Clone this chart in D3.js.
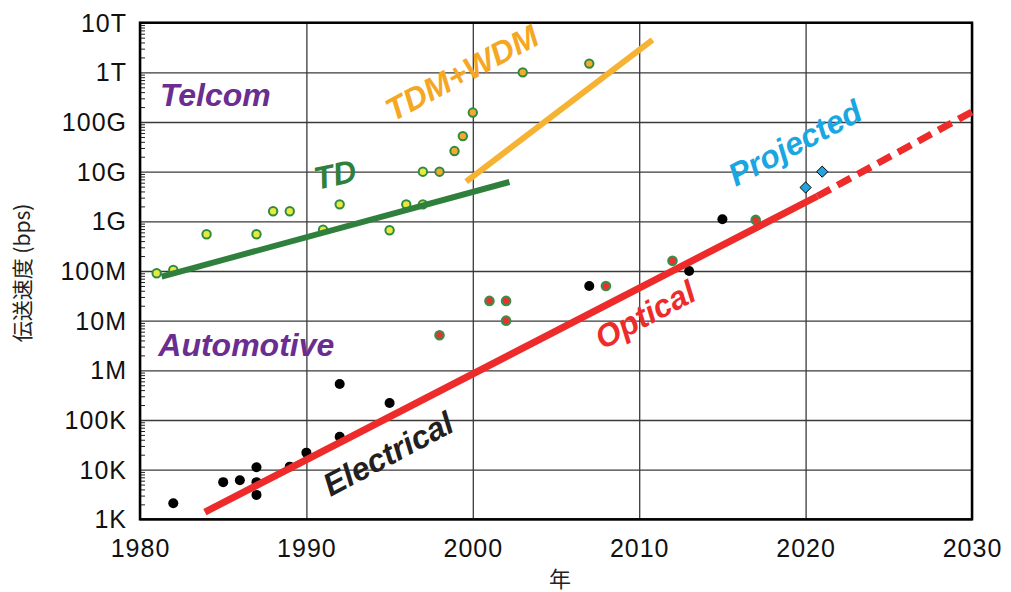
<!DOCTYPE html>
<html>
<head>
<meta charset="utf-8">
<script src="https://cdn.jsdelivr.net/npm/d3@7"></script>
<style>
  html, body { margin: 0; padding: 0; background: #fff; }
  svg { display: block; }
</style>
</head>
<body>
<svg id="chart" width="1011" height="592"></svg>
<script>
// ---------------- DATA ----------------
const xTicks = [1980, 1990, 2000, 2010, 2020, 2030];
const yTicks = [1e3, 1e4, 1e5, 1e6, 1e7, 1e8, 1e9, 1e10, 1e11, 1e12, 1e13];
const yTickLabels = ["1K", "10K", "100K", "1M", "10M", "100M", "1G", "10G", "100G", "1T", "10T"];

// Telcom TD points (yellow)
const telcomTdYears = [1981, 1982, 1984, 1987, 1988, 1989, 1991, 1992, 1995, 1996, 1997, 1997];
const telcomTdBps   = [9e7, 1.05e8, 5.5e8, 5.5e8, 1.6e9, 1.6e9, 6.8e8, 2.2e9, 6.6e8, 2.2e9, 2.2e9, 1.0e10];

// Telcom TDM+WDM points (orange)
const telcomWdmYears = [1998, 1998.9, 1999.4, 2000, 2003, 2007];
const telcomWdmBps   = [1.0e10, 2.6e10, 5.2e10, 1.55e11, 1.0e12, 1.5e12];

// Automotive optical points (red with green ring)
const autoOptYears = [1998, 2001, 2002, 2002, 2008, 2012, 2017];
const autoOptBps   = [5.1e6, 2.5e7, 2.5e7, 1.0e7, 5.0e7, 1.6e8, 1.07e9];

// Automotive electrical points (black)
const autoElecYears = [1982, 1985, 1986, 1987, 1987, 1987, 1989, 1990, 1992, 1992, 1995, 2007, 2013, 2015];
const autoElecBps   = [2.1e3, 5.6e3, 6.1e3, 1.12e4, 5.6e3, 3.1e3, 1.15e4, 2.2e4, 5.3e5, 4.6e4, 2.2e5, 5.0e7, 1.0e8, 1.1e9];

// Projected points (blue diamonds)
const projYears = [2020, 2021];
const projBps   = [4.8e9, 1.0e10];

// Trend lines [year, bps]
const tdTrend        = [[1981.3, 7.7e7], [2002.2, 6.2e9]];
const wdmTrend       = [[1999.6, 6.3e9], [2010.8, 4.5e12]];
const opticalTrend   = [[1983.9, 1.4e3], [2020.7, 3.2e9]];
const projectedTrend = [[2020.7, 3.2e9], [2030, 1.6e11]];

// ---------------- LAYOUT ----------------
const M = { left: 140, right: 972, top: 22.7, bottom: 519.3 };
const svg = d3.select("#chart");
const x = d3.scaleLinear().domain([1980, 2030]).range([M.left, M.right]);
const y = d3.scaleLog().domain([1e3, 1e13]).range([M.bottom, M.top]);
const W = M.right - M.left, H = M.bottom - M.top;

const tickFont = "'Liberation Sans', Arial, sans-serif";
const labelFont = "'Liberation Sans', Arial, sans-serif";

// grid lines
const gx = svg.append("g").attr("transform", `translate(0,${M.bottom})`)
  .call(d3.axisBottom(x).tickValues(xTicks).tickSize(-H).tickFormat(""));
gx.select(".domain").remove();
gx.selectAll("line").attr("stroke", "#3a3a3a").attr("stroke-width", 1.3);

const gy = svg.append("g").attr("transform", `translate(${M.left},0)`)
  .call(d3.axisLeft(y).tickValues(yTicks).tickSize(-W).tickFormat(""));
gy.select(".domain").remove();
gy.selectAll("line").attr("stroke", "#3a3a3a").attr("stroke-width", 1.3);

// minor ticks on left axis (inside)
const minorVals = [];
for (let e = 3; e < 13; e++) for (let m = 2; m <= 9; m++) minorVals.push(m * Math.pow(10, e));
const gm = svg.append("g").attr("transform", `translate(${M.left},0)`)
  .call(d3.axisLeft(y).tickValues(minorVals).tickSize(-5).tickFormat(""));
gm.select(".domain").remove();
gm.selectAll("line").attr("stroke", "#222").attr("stroke-width", 1);

// x tick labels
const ax = svg.append("g").attr("transform", `translate(0,${M.bottom})`)
  .call(d3.axisBottom(x).tickValues(xTicks).tickSize(0).tickPadding(24).tickFormat(d3.format("d")));
ax.select(".domain").remove();
ax.selectAll("text").attr("font-family", tickFont).attr("font-size", 25)
  .attr("fill", "#111").attr("letter-spacing", 1).attr("dy", "0.55em");

// y tick labels
const ay = svg.append("g").attr("transform", `translate(${M.left},0)`)
  .call(d3.axisLeft(y).tickValues(yTicks).tickSize(0).tickPadding(13)
    .tickFormat((d, i) => yTickLabels[i]));
ay.select(".domain").remove();
ay.selectAll("text").attr("font-family", tickFont).attr("font-size", 25)
  .attr("fill", "#111").attr("letter-spacing", 1).attr("dy", "0.34em");

// frame
svg.append("rect").attr("x", M.left).attr("y", M.top).attr("width", W).attr("height", H)
  .attr("fill", "none").attr("stroke", "#000").attr("stroke-width", 2.5);

// axis titles
svg.append("text").attr("transform", `translate(30,${(M.top + M.bottom) / 2 + 2}) rotate(-90)`)
  .attr("text-anchor", "middle").attr("font-family", "'Noto Sans CJK JP', sans-serif")
  .attr("font-size", 21).attr("fill", "#222").text("伝送速度 (bps)");
svg.append("text").attr("x", (M.left + M.right) / 2 + 4).attr("y", 587)
  .attr("text-anchor", "middle").attr("font-family", "'Noto Sans CJK JP', sans-serif")
  .attr("font-size", 22).attr("fill", "#222").text("年");

// ---------------- POINTS ----------------
const zip = (a, b) => a.map((v, i) => [v, b[i]]);
const plot = svg.append("g");

plot.selectAll("circle.td").data(zip(telcomTdYears, telcomTdBps)).join("circle")
  .attr("cx", d => x(d[0])).attr("cy", d => y(d[1])).attr("r", 4.2)
  .attr("fill", "#e9e83c").attr("stroke", "#2f8a42").attr("stroke-width", 2);

plot.selectAll("circle.wdm").data(zip(telcomWdmYears, telcomWdmBps)).join("circle")
  .attr("cx", d => x(d[0])).attr("cy", d => y(d[1])).attr("r", 4.2)
  .attr("fill", "#f4aa2c").attr("stroke", "#2f8a42").attr("stroke-width", 2);

plot.selectAll("circle.opt").data(zip(autoOptYears, autoOptBps)).join("circle")
  .attr("cx", d => x(d[0])).attr("cy", d => y(d[1])).attr("r", 4.2)
  .attr("fill", "#ea3030").attr("stroke", "#3b8d47").attr("stroke-width", 2.2);

plot.selectAll("circle.elec").data(zip(autoElecYears, autoElecBps)).join("circle")
  .attr("cx", d => x(d[0])).attr("cy", d => y(d[1])).attr("r", 5)
  .attr("fill", "#000");

// ---------------- TREND LINES ----------------
const line = d3.line().x(d => x(d[0])).y(d => y(d[1]));
plot.append("path").attr("d", line(tdTrend)).attr("stroke", "#30803d").attr("stroke-width", 6).attr("fill", "none");
plot.append("path").attr("d", line(wdmTrend)).attr("stroke", "#f6b333").attr("stroke-width", 6).attr("fill", "none");
plot.append("path").attr("d", line(opticalTrend)).attr("stroke", "#ee2b2b").attr("stroke-width", 7).attr("fill", "none");
plot.append("path").attr("d", line(projectedTrend)).attr("stroke", "#ee2b2b").attr("stroke-width", 7)
  .attr("stroke-dasharray", "15,8").attr("fill", "none");

// projected diamonds
plot.selectAll("path.diamond").data(zip(projYears, projBps)).join("path")
  .attr("d", d3.symbol(d3.symbolDiamond2, 80)())
  .attr("transform", d => `translate(${x(d[0])},${y(d[1])})`)
  .attr("fill", "#27a3dc").attr("stroke", "#000").attr("stroke-width", 1);

// ---------------- ANNOTATIONS ----------------
const labels = [
  { text: "Telcom",     at: [1981.2, 2.1e11],  rot: 0,   color: "#6a2d91" },
  { text: "Automotive", at: [1981.1, 1.95e6],  rot: 0,   color: "#6a2d91" },
  { text: "TD",         at: [1990.6, 4.3e9],   rot: -12, color: "#30803d" },
  { text: "TDM+WDM",    at: [1995.2, 1.0e11],  rot: -28, color: "#f5a623" },
  { text: "Projected",  at: [2015.8, 4.9e9],   rot: -28, color: "#19a6e3" },
  { text: "Optical",    at: [2007.8, 2.57e6],  rot: -28, color: "#ee2b2b" },
  { text: "Electrical", at: [1991.45, 2.8e3],  rot: -28, color: "#231f20" }
];
svg.append("g").selectAll("text").data(labels).join("text")
  .attr("transform", d => `translate(${x(d.at[0])},${y(d.at[1])}) rotate(${d.rot})`)
  .attr("font-family", labelFont).attr("font-weight", "bold").attr("font-style", "italic")
  .attr("font-size", 32).attr("fill", d => d.color).text(d => d.text);
</script>
</body>
</html>
